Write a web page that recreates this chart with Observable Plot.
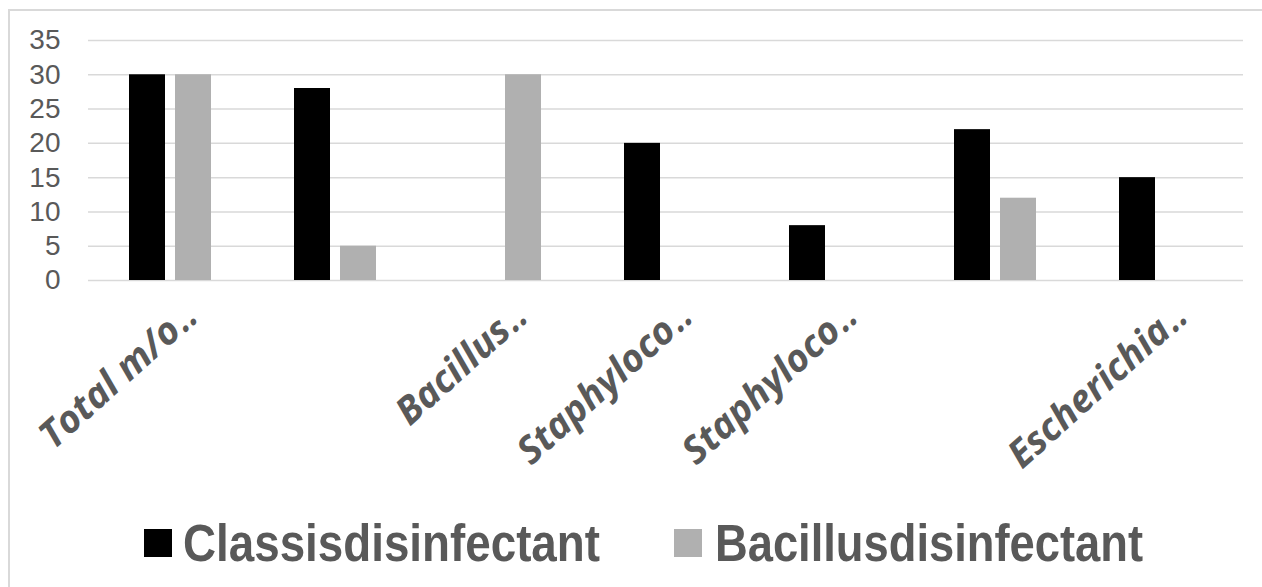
<!DOCTYPE html>
<html>
<head>
<meta charset="utf-8">
<script src="https://cdn.jsdelivr.net/npm/d3@7"></script>
<script src="https://cdn.jsdelivr.net/npm/@observablehq/plot@0.6"></script>
<style>
  html, body { margin: 0; padding: 0; background: #fff; }
  #wrap { position: relative; width: 1262px; height: 587px; overflow: hidden; }
  #frame { position: absolute; left: 8px; top: 9px; width: 1400px; height: 700px;
           border-left: 2px solid #d9d9d9; border-top: 2px solid #d9d9d9; }
  #chart { position: absolute; left: 0; top: 0; }
  #legend { position: absolute; left: 0; top: 490px; }
</style>
</head>
<body>
<div id="wrap">
  <div id="frame"></div>
  <div id="chart"></div>
  <svg id="legend" width="1262" height="97"></svg>
</div>
<script>
// Category tick labels (two groups carry no label)
const categories = ["Total m/o‥", "", "Bacillus‥", "Staphyloco‥", "Staphyloco‥", "", "Escherichia‥"];
const series = ["Classisdisinfectant", "Bacillusdisinfectant"];
const classisValues = [30, 28, 0, 20, 8, 22, 15];
const bacillusValues = [30, 5, 30, 0, 0, 12, 0];
const yTicks = [0, 5, 10, 15, 20, 25, 30, 35];
const colors = ["#000000", "#b0b0b0"];

const rows = [];
categories.forEach((c, i) => {
  rows.push({group: i, series: series[0], value: classisValues[i]});
  rows.push({group: i, series: series[1], value: bacillusValues[i]});
});

const grey = "#595959";

const chart = Plot.plot({
  width: 1262,
  height: 490,
  marginTop: 40,
  marginBottom: 210,
  marginLeft: 85,
  marginRight: 16,
  style: {background: "transparent", fontFamily: "'Liberation Sans', Arial, sans-serif"},
  fx: {domain: d3.range(categories.length), padding: 0, label: null},
  x: {domain: series, paddingInner: 0.21, paddingOuter: 0.87, axis: null},
  y: {domain: [0, 35], label: null},
  color: {domain: series, range: colors},
  marks: [
    Plot.gridY(yTicks, {stroke: "#d9d9d9", strokeOpacity: 1, strokeWidth: 1.5}),
    Plot.barY(rows, {fx: "group", x: "series", y: "value", fill: "series"}),
    Plot.axisY(yTicks, {
      tickSize: 0, tickPadding: 28, fontSize: 28, fill: grey,
      fontFamily: "'Liberation Sans', Arial, sans-serif", label: null
    }),
    Plot.axisFx({
      anchor: "bottom",
      tickSize: 0,
      tickPadding: 40,
      tickRotate: -42,
      textAnchor: "end",
      lineAnchor: "bottom",
      dx: 27,
      fontSize: 38,
      fontStyle: "italic",
      fontWeight: "bold",
      fontFamily: "'Open Sans', sans-serif",
      fill: grey,
      label: null,
      tickFormat: (i) => categories[i]
    })
  ]
});
document.getElementById("chart").appendChild(chart);

// Legend below the plot
const legend = d3.select("#legend");
const legendItems = [
  {key: series[0], color: colors[0], sx: 144, tx: 183, len: 417},
  {key: series[1], color: colors[1], sx: 674, tx: 715, len: 428}
];
legendItems.forEach((d) => {
  legend.append("rect")
    .attr("x", d.sx).attr("y", 39).attr("width", 28).attr("height", 28)
    .attr("fill", d.color);
  legend.append("text")
    .attr("x", d.tx).attr("y", 71)
    .attr("font-family", "'Liberation Sans', Arial, sans-serif")
    .attr("font-weight", "bold")
    .attr("font-size", 51)
    .attr("fill", grey)
    .attr("textLength", d.len)
    .attr("lengthAdjust", "spacingAndGlyphs")
    .text(d.key);
});
</script>
</body>
</html>
